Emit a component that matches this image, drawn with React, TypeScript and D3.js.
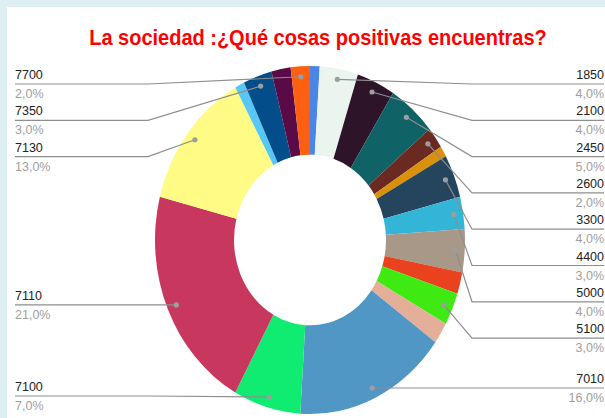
import React from "react";
import * as d3 from "d3";

const title = "La sociedad :¿Qué cosas positivas encuentras?";
// Slices clockwise from 12 o'clock; empty label = slice without a callout
const categories = ["", "1850", "2100", "2450", "2600", "", "3300", "4400", "5000", "", "5100", "", "7010", "7100", "7110", "7130", "", "7350", "", "7700"];
const values = [1, 4, 4, 5, 2, 1, 4, 3, 4, 2, 3, 2, 16, 7, 21, 13, 1, 3, 2, 2];
const colors = ["#4A86E8", "#EAF5F0", "#2D1429", "#0F6367", "#6A2A22", "#D9900A", "#25455E", "#33B5D8", "#A89888", "#EA421E", "#3EEA12", "#E3AF99", "#5197C6", "#10EC72", "#C8385E", "#FFFB85", "#57C8F5", "#034E8A", "#5A0B47", "#FF5F10"];

const W = 605, H = 418;
const cx = 310, cy = 240;
const rx = 155, ry = 174;
const innerR = 76;
const sy = ry / rx;

export default function App() {
  const total = d3.sum(values);
  const pie = d3.pie<number>().sort(null).value((d) => d)(values);
  const arc = d3.arc<d3.PieArcDatum<number>>().innerRadius(innerR).outerRadius(rx);
  const fmt = (v: number) => ((v / total) * 100).toFixed(1).replace(".", ",") + "%";

  type L = { i: number; side: "L" | "R"; dx: number; dy: number; ly: number };
  const labels: L[] = [];
  pie.forEach((p, i) => {
    if (!categories[i]) return;
    const a = (p.startAngle + p.endAngle) / 2;
    const dx = cx + 0.94 * rx * Math.sin(a);
    const dy = cy - 0.94 * ry * Math.cos(a);
    labels.push({ i, side: a < Math.PI ? "R" : "L", dx, dy, ly: dy });
  });
  const gap = 36.3, top = 84, bottom = 396;
  (["L", "R"] as const).forEach((s) => {
    const arr = labels.filter((l) => l.side === s).sort((a, b) => a.dy - b.dy);
    let prev = top - gap;
    arr.forEach((l) => { l.ly = Math.max(l.dy, prev + gap, top); prev = l.ly; });
    let next = bottom + gap;
    for (let k = arr.length - 1; k >= 0; k--) { arr[k].ly = Math.min(arr[k].ly, next - gap, bottom); next = arr[k].ly; }
  });

  const elbowR = 472, elbowL = 148, edgeR = 604, edgeL = 15;

  return (
    <svg width={W} height={H} style={{ position: "absolute", left: 0, top: 0 }} fontFamily="Liberation Sans, Arial, sans-serif">
      <rect x={0} y={0} width={W} height={H} fill="#DDEFF3" />
      <rect x={7} y={7} width={W - 7} height={H - 7} fill="#FFFFFF" />
      <text transform={`translate(318,45) scale(1,1.12)`} textAnchor="middle" fontSize={20} fontWeight="bold" fill="#FF0000">{title}</text>
      <g transform={`translate(${cx},${cy}) scale(1,${sy})`}>
        {pie.map((p, i) => (
          <path key={i} d={arc(p) || ""} fill={colors[i]} />
        ))}
      </g>
      {labels.map((l) => {
        const R = l.side === "R";
        const edge = R ? edgeR : edgeL;
        const elbow = R ? elbowR : elbowL;
        const pts = R
          ? (l.dx < elbow ? [[edge, l.ly], [elbow, l.ly], [l.dx, l.dy]] : [[edge, l.ly], [l.dx, l.dy]])
          : (l.dx > elbow ? [[edge, l.ly], [elbow, l.ly], [l.dx, l.dy]] : [[edge, l.ly], [l.dx, l.dy]]);
        return (
          <g key={l.i}>
            <path d={d3.line()(pts as [number, number][]) || ""} fill="none" stroke="#8E8E8E" strokeWidth={1.2} />
            <circle cx={l.dx} cy={l.dy} r={2.6} fill="#9E9E9E" />
            <text x={edge} y={l.ly - 5} textAnchor={R ? "end" : "start"} fontSize={12.5} fill="#222222">{categories[l.i]}</text>
            <text x={edge} y={l.ly + 14} textAnchor={R ? "end" : "start"} fontSize={12.5} fill="#9E9E9E">{fmt(values[l.i])}</text>
          </g>
        );
      })}
    </svg>
  );
}
